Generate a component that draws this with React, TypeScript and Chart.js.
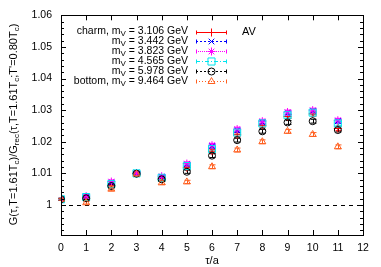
import React, { useEffect, useRef } from "react";
import { Chart, registerables } from "chart.js";
import { drawPoint } from "chart.js/helpers";

Chart.register(...registerables);

const tau = [0, 1, 2, 3, 4, 5, 6, 7, 8, 9, 10, 11];
const xTicks = [0, 1, 2, 3, 4, 5, 6, 7, 8, 9, 10, 11, 12];
const yTicks = [1.0, 1.01, 1.02, 1.03, 1.04, 1.05, 1.06];

const charm = [1.0018, 1.0022, 1.0062, 1.01, 1.0084, 1.0118, 1.017, 1.0222, 1.0252, 1.028, 1.0288, 1.0242];
const m3442 = [1.0018, 1.0027, 1.0071, 1.01, 1.0089, 1.0129, 1.0186, 1.0236, 1.0262, 1.0291, 1.0298, 1.0265];
const m3823 = [1.0018, 1.0028, 1.0074, 1.0101, 1.0091, 1.0131, 1.0189, 1.024, 1.0265, 1.0294, 1.03, 1.0268];
const m4565 = [1.0018, 1.0025, 1.0066, 1.01, 1.0086, 1.0123, 1.0177, 1.0229, 1.0258, 1.0284, 1.0292, 1.0258];
const m5978 = [1.0018, 1.0021, 1.006, 1.0099, 1.0081, 1.0105, 1.0156, 1.0205, 1.0233, 1.0261, 1.0265, 1.0237];
const bottom = [1.0018, 1.0007, 1.005, 1.0098, 1.007, 1.0073, 1.0121, 1.0174, 1.02, 1.0233, 1.0223, 1.0184];

const errCharm = [0.0003, 0.0004, 0.0005, 0.0004, 0.0005, 0.0005, 0.0006, 0.0006, 0.0006, 0.0006, 0.0007, 0.0007];
const errOther = [0.0003, 0.0004, 0.0005, 0.0004, 0.0005, 0.0005, 0.0006, 0.0006, 0.0006, 0.0006, 0.0006, 0.0006];

const series = [
  { pre: "charm, m", post: " = 3.106 GeV", values: charm, err: errCharm, color: "#ff0000", style: "cross", radius: 4, dash: [] as number[] },
  { pre: "m", post: " = 3.442 GeV", values: m3442, err: errOther, color: "#0000ff", style: "crossRot", radius: 4, dash: [2, 2] },
  { pre: "m", post: " = 3.823 GeV", values: m3823, err: errOther, color: "#ff00ff", style: "star", radius: 4, dash: [1, 1] },
  { pre: "m", post: " = 4.565 GeV", values: m4565, err: errOther, color: "#00e5ee", style: "rect", radius: 5, dash: [4, 2, 1, 2] },
  { pre: "m", post: " = 5.978 GeV", values: m5978, err: errOther, color: "#000000", style: "circle", radius: 3.5, dash: [2, 2] },
  { pre: "bottom, m", post: " = 9.464 GeV", values: bottom, err: errOther, color: "#ff6020", style: "triangle", radius: 4, dash: [1, 2] },
];

const FONT = '"Liberation Sans", Arial, sans-serif';

const decorPlugin = {
  id: "decor",
  beforeDatasetsDraw(chart: any) {
    const ctx = chart.ctx;
    const xs = chart.scales.x;
    const ys = chart.scales.y;
    const a = chart.chartArea;
    ctx.save();
    ctx.strokeStyle = "#000";
    ctx.lineWidth = 1;
    ctx.setLineDash([4, 4]);
    const y1 = Math.round(ys.getPixelForValue(1)) + 0.5;
    ctx.beginPath();
    ctx.moveTo(a.left, y1);
    ctx.lineTo(a.right, y1);
    ctx.stroke();
    ctx.setLineDash([]);
    series.forEach((s) => {
      ctx.strokeStyle = s.color;
      ctx.lineWidth = 1;
      s.values.forEach((v, i) => {
        const px = Math.round(xs.getPixelForValue(tau[i])) + 0.5;
        const top = ys.getPixelForValue(v + s.err[i]);
        const bot = ys.getPixelForValue(v - s.err[i]);
        ctx.beginPath();
        ctx.moveTo(px, top);
        ctx.lineTo(px, bot);
        ctx.moveTo(px - 3, top);
        ctx.lineTo(px + 3, top);
        ctx.moveTo(px - 3, bot);
        ctx.lineTo(px + 3, bot);
        ctx.stroke();
      });
    });
    ctx.restore();
  },
  afterDraw(chart: any) {
    const ctx = chart.ctx;
    const xs = chart.scales.x;
    const ys = chart.scales.y;
    const a = chart.chartArea;
    ctx.save();
    ctx.strokeStyle = "#000";
    ctx.lineWidth = 1;
    ctx.strokeRect(Math.round(a.left) + 0.5, Math.round(a.top) + 0.5, Math.round(a.right - a.left), Math.round(a.bottom - a.top));
    ctx.beginPath();
    xTicks.forEach((t) => {
      const px = Math.round(xs.getPixelForValue(t)) + 0.5;
      ctx.moveTo(px, a.bottom);
      ctx.lineTo(px, a.bottom - 5);
      ctx.moveTo(px, a.top);
      ctx.lineTo(px, a.top + 5);
    });
    for (let k = 496; k <= 530; k++) {
      const v = k / 500;
      const py = Math.round(ys.getPixelForValue(v)) + 0.5;
      if (py > a.bottom || py < a.top) continue;
      const len = k % 5 === 0 ? 5 : 3;
      ctx.moveTo(a.left, py);
      ctx.lineTo(a.left + len, py);
      ctx.moveTo(a.right, py);
      ctx.lineTo(a.right - len, py);
    }
    ctx.stroke();

    ctx.fillStyle = "#000";
    ctx.font = `11px ${FONT}`;
    ctx.textAlign = "center";
    ctx.textBaseline = "middle";
    ctx.fillText("\u03c4/a", (a.left + a.right) / 2, 261);

    const parts: [string, boolean][] = [
      ["G(\u03c4,T=1.61T", false], ["c", true], [")/G", false], ["rec", true],
      ["(\u03c4,T=1.61T", false], ["c", true], [";T'=0.80T", false], ["c", true], [")", false],
    ];
    const fs = 11;
    const sub = 8;
    let total = 0;
    parts.forEach(([t, s]) => {
      ctx.font = `${s ? sub : fs}px ${FONT}`;
      total += ctx.measureText(t).width;
    });
    ctx.save();
    ctx.translate(14, 124.5);
    ctx.rotate(-Math.PI / 2);
    ctx.textAlign = "left";
    ctx.textBaseline = "middle";
    let cx = -total / 2;
    parts.forEach(([t, s]) => {
      ctx.font = `${s ? sub : fs}px ${FONT}`;
      ctx.fillText(t, cx, s ? 3 : 0);
      cx += ctx.measureText(t).width;
    });
    ctx.restore();

    const textRight = 188;
    series.forEach((s, i) => {
      const y = 31.5 + i * 9.9;
      ctx.textBaseline = "middle";
      ctx.textAlign = "left";
      ctx.font = `10.5px ${FONT}`;
      const wPost = ctx.measureText(s.post).width;
      ctx.font = `8px ${FONT}`;
      const wSub = ctx.measureText("V").width;
      ctx.font = `10.5px ${FONT}`;
      const wPre = ctx.measureText(s.pre).width;
      const x0 = textRight - wPost - wSub - wPre;
      ctx.fillStyle = "#000";
      ctx.fillText(s.pre, x0, y);
      ctx.font = `8px ${FONT}`;
      ctx.fillText("V", x0 + wPre, y + 2.5);
      ctx.font = `10.5px ${FONT}`;
      ctx.fillText(s.post, x0 + wPre + wSub, y);

      const l = 196, r = 227;
      const yy = Math.round(y) + 0.5;
      ctx.strokeStyle = s.color;
      ctx.lineWidth = 1;
      ctx.setLineDash(s.dash);
      ctx.beginPath();
      ctx.moveTo(l, yy);
      ctx.lineTo(r, yy);
      ctx.stroke();
      ctx.setLineDash([]);
      ctx.beginPath();
      ctx.moveTo(l + 0.5, yy - 2);
      ctx.lineTo(l + 0.5, yy + 2);
      ctx.moveTo(r - 0.5, yy - 2);
      ctx.lineTo(r - 0.5, yy + 2);
      ctx.stroke();
      ctx.fillStyle = "rgba(0,0,0,0)";
      drawPoint(ctx, { pointStyle: s.style, radius: s.radius, rotation: 0, borderWidth: 1 } as any, (l + r) / 2, yy);
    });
    ctx.fillStyle = "#000";
    ctx.font = `11px ${FONT}`;
    ctx.textAlign = "left";
    ctx.textBaseline = "middle";
    ctx.fillText("AV", 242, 31.5);
    ctx.restore();
  },
};

export default function App() {
  const ref = useRef<HTMLCanvasElement>(null);
  useEffect(() => {
    if (!ref.current) return;
    const chart = new Chart(ref.current, {
      type: "scatter",
      data: {
        datasets: series.map((s, i) => ({
          label: s.pre + "V" + s.post,
          data: tau.map((t, j) => ({ x: t, y: s.values[j] })),
          order: series.length - i,
          pointStyle: s.style as any,
          pointRadius: s.radius,
          pointBorderWidth: 1,
          borderColor: s.color,
          backgroundColor: "rgba(0,0,0,0)",
          pointBackgroundColor: "rgba(0,0,0,0)",
          showLine: false,
        })),
      },
      options: {
        responsive: false,
        animation: false,
        events: [],
        layout: { padding: { top: 14, right: 18, left: 0, bottom: 0 } },
        plugins: { legend: { display: false }, tooltip: { enabled: false }, title: { display: false } },
        scales: {
          x: {
            type: "linear",
            min: 0,
            max: 12,
            afterBuildTicks: (s: any) => { s.ticks = xTicks.map((v) => ({ value: v })); },
            afterFit: (s: any) => { s.height = 32; },
            grid: { display: false, drawTicks: false },
            border: { display: false },
            ticks: { color: "#000", font: { family: FONT, size: 10.5 }, padding: 7, maxRotation: 0, autoSkip: false, callback: (v: any) => String(v) },
          },
          y: {
            type: "linear",
            min: 0.9905,
            max: 1.06,
            afterBuildTicks: (s: any) => { s.ticks = yTicks.map((v) => ({ value: v })); },
            afterFit: (s: any) => { s.width = 61; },
            grid: { display: false, drawTicks: false },
            border: { display: false },
            ticks: {
              color: "#000",
              font: { family: FONT, size: 10.5 },
              padding: 9,
              autoSkip: false,
              callback: (v: any) => (Math.abs(v - 1) < 1e-9 ? "1" : Number(v).toFixed(2)),
            },
          },
        },
      },
      plugins: [decorPlugin],
    });
    return () => chart.destroy();
  }, []);
  return (
    <div style={{ position: "absolute", left: 0, top: 0, width: 381, height: 267, background: "#fff" }}>
      <canvas ref={ref} width={381} height={267} />
    </div>
  );
}
